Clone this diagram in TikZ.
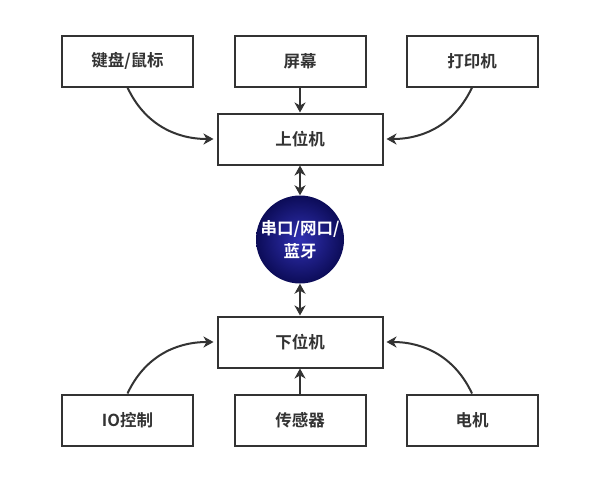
\documentclass[tikz,border=0pt]{standalone}
\usepackage{fontspec}
\setmainfont{Noto Sans CJK SC}[BoldFont=* Bold]
\usetikzlibrary{arrows.meta}
\definecolor{linegray}{HTML}{333333}
\definecolor{navyin}{RGB}{48,48,178}
\definecolor{navyout}{RGB}{12,12,88}
\begin{document}
\begin{tikzpicture}[x=1pt,y=-1pt,
  box/.style={draw=linegray,line width=2pt,minimum width=131pt,minimum height=51pt,inner sep=0pt,
    font=\fontsize{16.5}{19}\selectfont\bfseries,text=linegray},
  hostbox/.style={box,minimum width=165pt},
  tip/.style={Stealth[length=10pt,width=11pt,inset=3pt]},
  link/.style={draw=linegray,line width=2pt,-{Stealth[length=10pt,width=11pt,inset=3pt]}},
  dlink/.style={draw=linegray,line width=2pt,{Stealth[length=10pt,width=11pt,inset=3pt]}-{Stealth[length=10pt,width=11pt,inset=3pt]}},
  hub/.style={circle,minimum size=88pt,inner sep=0pt,shading=radial,inner color=navyin,outer color=navyout,
    text=white,align=center,font=\fontsize{16.5}{23}\selectfont\bfseries}]
\useasboundingbox[fill=white] (0,0) rectangle (600,480);
\node[box] (kb) at (127.5,61) {键盘/鼠标};
\node[box] (scr) at (300,61) {屏幕};
\node[box] (prn) at (472,61) {打印机};
\node[hostbox] (up) at (300,139) {上位机};
\node[hub] (com) at (300,239.5) {串口/网口/\\蓝牙};
\node[hostbox] (dn) at (300,342) {下位机};
\node[box] (io) at (127.5,420) {IO控制};
\node[box] (sen) at (300,420) {传感器};
\node[box] (mot) at (472,420) {电机};
\draw[link] (kb.south) to[out=-65,in=180] ([xshift=-3pt]up.west);
\draw[link] (prn.south) to[out=-115,in=0] ([xshift=3pt]up.east);
\draw[link] (scr.south) -- (up.north);
\draw[dlink] (up.south) -- (com.north);
\draw[dlink] (com.south) -- (dn.north);
\draw[link] (io.north) to[out=65,in=180] ([xshift=-3pt]dn.west);
\draw[link] (mot.north) to[out=115,in=0] ([xshift=3pt]dn.east);
\draw[link] (sen.north) -- (dn.south);
\end{tikzpicture}
\end{document}
